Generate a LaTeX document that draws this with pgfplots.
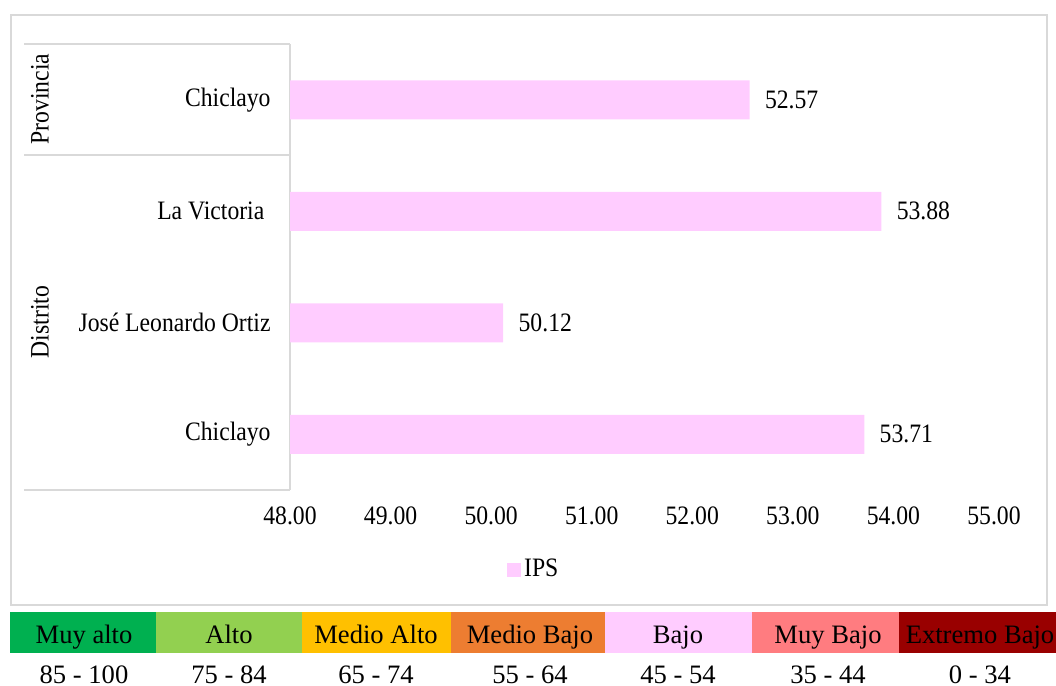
\documentclass[border=0pt]{standalone}
\usepackage{fontspec}
\setmainfont{Liberation Serif}
\usepackage{pgfplots}
\pgfplotsset{compat=1.18}

\definecolor{ipspink}{HTML}{FFCCFF}
\definecolor{cMuyAlto}{HTML}{00B050}
\definecolor{cAlto}{HTML}{92D050}
\definecolor{cMedioAlto}{HTML}{FFC000}
\definecolor{cMedioBajo}{HTML}{ED7D31}
\definecolor{cMuyBajo}{HTML}{FF7C80}
\definecolor{cExtremo}{HTML}{990000}
\definecolor{frameg}{HTML}{D9D9D9}

\begin{document}
\fontsize{13.3pt}{16pt}\selectfont
\begin{tikzpicture}
% page = 1056 x 686 px, 1px = 0.5pt
\useasboundingbox (0,0) rectangle (528pt,-343pt);

\begin{scope}[x=0.5pt,y=-0.5pt]
  % chart frame
  \draw[frameg, line width=0.8pt] (11,15) rectangle (1047,605);
  % category table lines
  \draw[frameg, line width=0.8pt] (24,44) -- (290,44);
  \draw[frameg, line width=0.8pt] (24,155) -- (290,155);
  \draw[frameg, line width=0.8pt] (24,490) -- (290,490);
  \draw[frameg, line width=0.8pt] (290,44) -- (290,490);
  \node[rotate=90, xscale=0.89] at (40,99) {Provincia};
  \node[rotate=90, xscale=0.89] at (40,322) {Distrito};
\end{scope}

\begin{axis}[
    at={(145pt,-245pt)}, anchor=south west,
    width=352pt, height=223pt, scale only axis,
    xbar, bar width=19.5pt,
    xmin=48, xmax=55, ymin=-0.5, ymax=3.5,
    xtick={48,49,...,55},
    ytick={0,1,2,3},
    yticklabels={Chiclayo, José Leonardo Ortiz, La Victoria\hspace*{3.5pt}, Chiclayo},
    axis line style={draw=none},
    major tick length=0pt,
    /pgf/number format/assume math mode=true,
    xticklabel style={yshift=-4pt, xscale=0.89, /pgf/number format/fixed,
        /pgf/number format/fixed zerofill, /pgf/number format/precision=2},
    yticklabel style={xshift=-5.6pt, xscale=0.89},
    clip mode=individual,
    nodes near coords,
    nodes near coords style={anchor=west, xshift=3.6pt, xscale=0.89, black,
        /pgf/number format/fixed, /pgf/number format/fixed zerofill,
        /pgf/number format/precision=2},
    legend style={at={(0.347,-0.179)}, anchor=center, draw=none, fill=none,
        nodes={xscale=0.89}},
    legend image code/.code={\fill[ipspink] (0pt,-3.5pt) rectangle (7pt,3.5pt);},
]
\addplot[fill=ipspink, draw=none] coordinates {
    (53.71,0)
    (50.12,1)
    (53.88,2)
    (52.57,3)
};
\addlegendentry{IPS}
\end{axis}

\begin{scope}[x=0.5pt,y=-0.5pt, every node/.style={anchor=base}]
  % classification scale
  \fill[cMuyAlto]   (10,612) rectangle (156,653);
  \fill[cAlto]      (156,612) rectangle (302,653);
  \fill[cMedioAlto] (302,612) rectangle (451,653);
  \fill[cMedioBajo] (451,612) rectangle (605,653);
  \fill[ipspink]    (605,612) rectangle (752,653);
  \fill[cMuyBajo]   (752,612) rectangle (899,653);
  \fill[cExtremo]   (899,612) rectangle (1056,653);
  \node at (84,643) {Muy alto};
  \node at (229,643) {Alto};
  \node at (376,643) {Medio Alto};
  \node at (530,643) {Medio Bajo};
  \node at (678,643) {Bajo};
  \node at (828,643) {Muy Bajo};
  \node at (980,643) {Extremo Bajo};
  \node at (84,683) {85 - 100};
  \node at (229,683) {75 - 84};
  \node at (376,683) {65 - 74};
  \node at (530,683) {55 - 64};
  \node at (678,683) {45 - 54};
  \node at (828,683) {35 - 44};
  \node at (980,683) {0 - 34};
\end{scope}
\end{tikzpicture}
\end{document}
